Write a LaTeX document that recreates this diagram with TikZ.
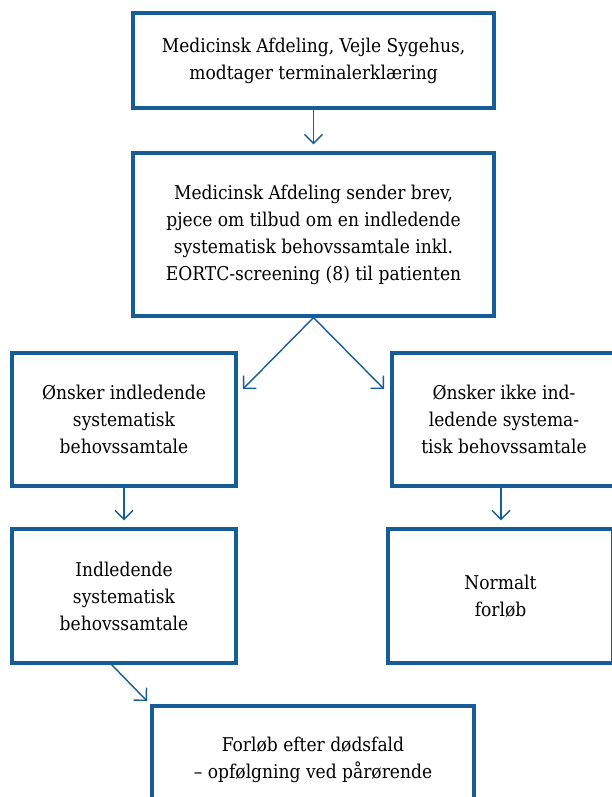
\documentclass[tikz,border=0pt]{standalone}
\usepackage{fontspec}
\setmainfont{DejaVu Serif Condensed}
\usetikzlibrary{arrows.meta,calc}
\definecolor{boxblue}{RGB}{22,92,150}
\begin{document}
\begin{tikzpicture}[x=1pt,y=-1pt,
  box/.style={draw=boxblue,line width=3.2pt,rectangle,inner sep=0pt,align=center,
    font=\fontsize{19}{27}\selectfont,text=black},
  arr/.style={draw=boxblue,line width=1.4pt,-{Straight Barb[length=9pt,width=18pt,line width=1.4pt]}}]
\useasboundingbox (0,0) rectangle (612,797);
\node[box,minimum width=361pt,minimum height=95pt] (b1) at (313.5,60.5)
  {Medicinsk Afdeling, Vejle Sygehus,\\modtager terminalerklæring};
\node[box,minimum width=361pt,minimum height=163pt] (b2) at (313.5,234.5)
  {Medicinsk Afdeling sender brev,\\pjece om tilbud om en indledende\\systematisk behovssamtale inkl.\\EORTC-screening (8) til patienten};
\node[box,minimum width=224pt,minimum height=133pt] (b3) at (124,419.5)
  {Ønsker indledende\\systematisk\\behovssamtale};
\node[box,minimum width=224pt,minimum height=133pt] (b4) at (504,419.5)
  {Ønsker ikke ind-\\ledende systema-\\tisk behovssamtale};
\node[box,minimum width=224pt,minimum height=134pt] (b5) at (124,596)
  {Indledende\\systematisk\\behovssamtale};
\node[box,minimum width=225pt,minimum height=134pt] (b6) at (500.5,596)
  {Normalt\\forløb};
\node[box,minimum width=322pt,minimum height=108pt] (b7) at (313,760)
  {Forløb efter dødsfald\\– opfølgning ved pårørende};
\coordinate (t3) at (243,389);
\coordinate (t4) at (384,389);
\coordinate (s7) at (110,663);
\coordinate (t7) at (147,701);
\draw[arr,shorten >=7pt] (b1.south) -- (b2.north);
\draw[arr] (b2.south) -- (t3);
\draw[arr] (b2.south) -- (t4);
\draw[arr,shorten >=7pt] (b3.south) -- (b5.north);
\draw[arr,shorten >=7pt] ($(b4.south)+(-3,0)$) -- ($(b6.north)+(0.5,0)$);
\draw[arr] (s7) -- (t7);
\end{tikzpicture}
\end{document}
